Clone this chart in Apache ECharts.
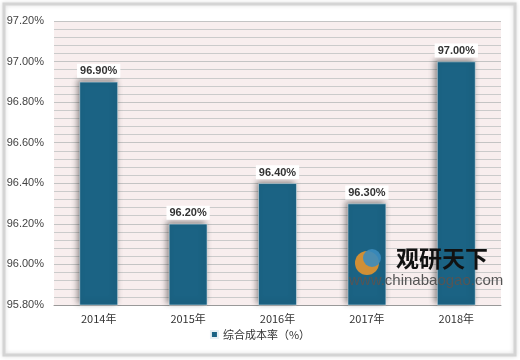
<!DOCTYPE html>
<html><head><meta charset="utf-8">
<script src="https://cdn.jsdelivr.net/npm/echarts@6/dist/echarts.min.js"></script>
<style>html,body{margin:0;padding:0;background:#fff}#c{width:520px;height:360px}</style>
</head><body><div id="c"></div>
<script>
var categories = ['2014年','2015年','2016年','2017年','2018年'];
var seriesName = '综合成本率（%）';
var values = [96.90, 96.20, 96.40, 96.30, 97.00];
var yMin = 95.8, yMax = 97.2, yStep = 0.2;

var chart = echarts.init(document.getElementById('c'), null, {renderer:'canvas'});
chart.setOption({
  backgroundColor:'#fff',
  animation:false,
  graphic:[
    {type:'rect', shape:{x:4,y:4,width:511,height:351}, style:{fill:'none', stroke:'#d4d4d4', lineWidth:3, shadowColor:'rgba(0,0,0,0.15)', shadowBlur:4}, z:-1},
    {type:'text', left:396, top:247, style:{text:'观研天下', font:'bold 23px "Noto Sans CJK SC"', fill:'#111'}, z:100},
    {type:'text', left:349, top:273, style:{text:'www.chinabaogao.com', font:'15px "Liberation Sans"', fill:'#555'}, z:100},
    {type:'circle', shape:{cx:367, cy:263, r:12}, style:{fill:'rgba(240,150,40,0.85)'}, z:99},
    {type:'circle', shape:{cx:372, cy:258, r:9}, style:{fill:'rgba(60,140,190,0.9)'}, z:100}
  ],
  grid:{left:54, right:19, top:21, bottom:55, show:true, backgroundColor:'#f8eeee', borderWidth:0},
  legend:{bottom:15, left:'center', icon:'rect', itemWidth:7, itemHeight:7, itemGap:3,
    textStyle:{fontSize:11, color:'#333', fontFamily:'"Noto Sans CJK SC"'}, data:[seriesName]},
  xAxis:{type:'category', data:categories,
    axisLine:{lineStyle:{color:'#999'}}, axisTick:{show:false},
    axisLabel:{fontSize:11, color:'#333', margin:8, fontFamily:'"Noto Sans CJK SC"'}},
  yAxis:{type:'value', min:yMin, max:yMax, interval:yStep,
    axisLine:{show:false}, axisTick:{show:false},
    axisLabel:{fontSize:11, color:'#444', margin:10, fontFamily:'"Liberation Sans"', formatter:function(v){return v.toFixed(2)+'%';}},
    splitLine:{lineStyle:{color:'#c4c4c4', width:1.2}},
    minorTick:{show:false, splitNumber:5},
    minorSplitLine:{show:true, lineStyle:{color:'#cbcbcb', width:1}}},
  series:[{
    name:seriesName, type:'bar', data:values, barWidth:'43%',
    itemStyle:{color:'#1b6384', borderColor:'#e8f0f4', borderWidth:0.5, shadowColor:'rgba(0,0,0,0.45)', shadowBlur:6, shadowOffsetX:-2, shadowOffsetY:-2},
    label:{show:true, position:'top', distance:4, backgroundColor:'#fff', padding:[2,3,1,3],
      fontSize:11, fontWeight:'bold', color:'#333', fontFamily:'"Liberation Sans"',
      formatter:function(p){return p.value.toFixed(2)+'%';}}
  }]
});
</script></body></html>
